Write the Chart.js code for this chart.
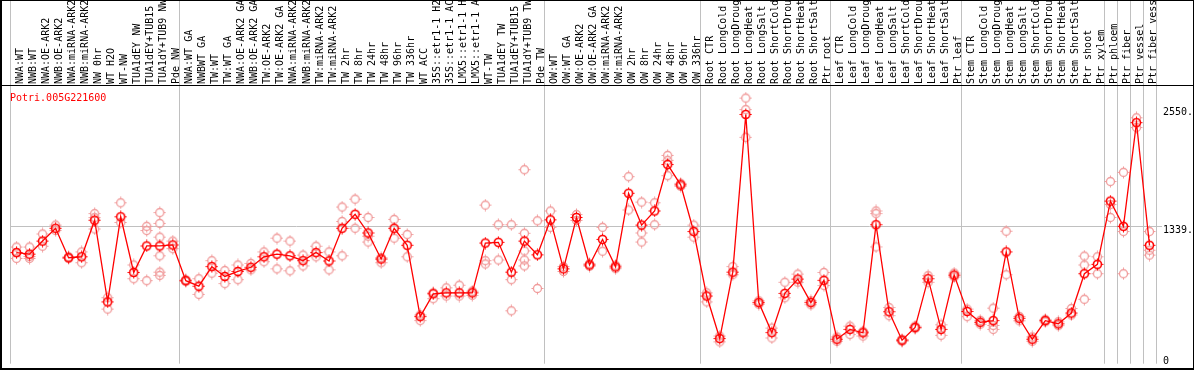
<!DOCTYPE html>
<html>
<head>
<meta charset="utf-8">
<script src="https://cdn.jsdelivr.net/npm/chart.js@4"></script>
<style>
html,body{margin:0;padding:0;background:#fff;}
#wrap{width:1194px;height:370px;position:relative;}
</style>
</head>
<body>
<div id="wrap"><canvas id="c"></canvas></div>
<script>
const geneName = 'Potri.005G221600';
const categories = [
 'NWA:WT','NWB:WT','NWA:OE-ARK2','NWB:OE-ARK2','NWA:miRNA-ARK2','NWB:miRNA-ARK2','NW 0hr','WT H2O','WT-NW','TUA1dEY NW','TUA1dEY+TUB15','TUA1dY+TUB9 NW','Pde NW',
 'NWA:WT GA','NWBWT GA','TW:WT','TW:WT GA','NWA:OE-ARK2 GA','NWB:OE-ARK2 GA','TW:OE-ARK2','TW:OE-ARK2 GA','NWA:miRNA-ARK2','NWB:miRNA-ARK2','TW:miRNA-ARK2','TW:miRNA-ARK2',
 'TW 2hr','TW 8hr','TW 24hr','TW 48hr','TW 96hr','TW 336hr','WT ACC','35S::etr1-1 H2','35S::etr1-1 AC','LMX5::etr1-1 H','LMX5::etr1-1 A','WT-TW','TUA1dEY TW','TUA1dEY+TUB15','TUA1dY+TUB9 TW','Pde TW',
 'OW:WT','OW:WT GA','OW:OE-ARK2','OW:OE-ARK2 GA','OW:miRNA-ARK2','OW:miRNA-ARK2','OW 2hr','OW 8hr','OW 24hr','OW 48hr','OW 96hr','OW 336hr',
 'Root CTR','Root LongCold','Root LongDroug','Root LongHeat','Root LongSalt','Root ShortCold','Root ShortDrou','Root ShortHeat','Root ShortSalt','Ptr root',
 'Leaf CTR','Leaf LongCold','Leaf LongDroug','Leaf LongHeat','Leaf LongSalt','Leaf ShortCold','Leaf ShortDrou','Leaf ShortHeat','Leaf ShortSalt','Ptr leaf',
 'Stem CTR','Stem LongCold','Stem LongDroug','Stem LongHeat','Stem LongSalt','Stem ShortCold','Stem ShortDrou','Stem ShortHeat','Stem ShortSalt','Ptr shoot','Ptr xylem',
 'Ptr phloem','Ptr fiber','Ptr vessel','Ptr fiber vess'
];
const meanValues = [
 1070,1054,1188,1319,1017,1027,1402,564,1437,866,1138,1138,1148,
 782,725,926,825,876,919,1027,1054,1037,987,1070,984,
 1319,1463,1271,1004,1319,1145,413,647,657,657,657,1168,1175,869,1188,1047,
 1406,903,1430,943,1205,923,1678,1352,1497,1973,1765,1286,
 624,188,869,2487,557,249,651,798,557,785,
 181,282,247,1356,463,171,302,802,282,839,
 466,355,372,1077,396,181,372,339,450,853,949,
 1598,1339,2403,1145
];
const replicateValues = [
 [1127,1010,1070],[1127,1010,1030],[1261,1135],[1352,1296],[1027,1010],[1077,966],[1470,1429,1312],[607,490],[1581,1379],[943,802],[1339,1296,782],[1480,1369,1228,1037,869,836],[1188,1110],
 [790,775],[802,641],[987,859],[886,752],[943,792],[959,893],[1077,976],[1218,903],[1188,883],[1044,933],[1135,1027],[1077,893],
 [1537,1389,1037],[1618,1319],[1430,1238,1178],[1017,966],[1410,1218],[1255,1027],[430,372],[657,597],[708,624],[735,624],[674,631],[1557,987,953],[1356,994],[1356,792,473],[1920,1268,1087,994,933],[1396,702],
 [1497,1329],[926,876],[1460,1400],[955,930],[1329,1084],[940,905],[1849,1507],[1588,1271,1178],[1581,1356],[2067,2016,1859],[1780,1750],[1352,1228],
 [657,564],[214,154],[926,843],[2655,2537,2252],[575,540],[295,194],[765,607],[849,765],[575,535],[866,732],
 [205,160],[315,229],[262,214],[1497,1470,1128],[506,423],[180,160],[315,290],[833,765],[329,221],[860,820],
 [490,413],[375,335],[500,322,282],[1289,843],[415,370],[205,160],[385,360],[360,320],[496,430],[1034,943,591],[1027,853],
 [1799,1563,1430],[1893,1286,853],[2453,2353],[1286,1094,1044]
];
const groupBreaks = [0,13,41,53,63,73,84,85,86,87,88];
const yTicks = [0,1339,2550];
const yTickLabels = ['0','1339.','2550.'];
const gridTick = 1339;
const yMin = -70, yMax = 2789;

const FONT = '"DejaVu Sans Mono", monospace';
Chart.defaults.font.family = FONT;
Chart.defaults.font.size = 10;

function marker(color, lw){
  const c = document.createElement('canvas');
  c.width = 13; c.height = 13;
  const g = c.getContext('2d');
  g.strokeStyle = color; g.lineWidth = lw;
  g.beginPath(); g.arc(6.5,6.5,4,0,Math.PI*2); g.stroke();
  g.fillStyle = color;
  g.fillRect(6,0.5,1,2); g.fillRect(6,10.5,1,2);
  g.fillRect(0.5,6,2,1); g.fillRect(10.5,6,2,1);
  return c;
}
const meanMarker = marker('#ff0000',1.6);
const repMarker = marker('#f09a9a',1.3);

const meanData = meanValues.map((v,i)=>({x:i+1,y:v}));
const repData = [];
replicateValues.forEach((arr,i)=>arr.forEach(v=>repData.push({x:i+1,y:v})));

const decor = {
  id:'decor',
  beforeDraw(chart){
    const g = chart.ctx;
    g.save(); g.fillStyle='#fff'; g.fillRect(0,0,chart.width,chart.height); g.restore();
  },
  beforeDatasetsDraw(chart){
    const g = chart.ctx, xs = chart.scales.x;
    g.save();
    g.strokeStyle = '#c0c0c0'; g.lineWidth = 1;
    groupBreaks.forEach(b=>{
      const x = Math.round(xs.getPixelForValue(b+0.5)) + 0.5;
      g.beginPath(); g.moveTo(x,0); g.lineTo(x,chart.chartArea.bottom); g.stroke();
    });
    g.restore();
  },
  afterDraw(chart){
    const g = chart.ctx, xs = chart.scales.x, ys = chart.scales.y, top = chart.chartArea.top;
    g.save();
    g.fillStyle = '#000';
    g.fillRect(0,top,chart.width,1);
    g.fillRect(0,0,2,chart.height);
    g.fillRect(0,chart.height-2,chart.width,2);
    g.fillRect(0,0,chart.width,1);
    g.fillRect(chart.width-1,0,1,chart.height);
    g.font = '10px ' + FONT;
    g.textAlign = 'left'; g.textBaseline = 'alphabetic';
    categories.forEach((lab,i)=>{
      const x = xs.getPixelForValue(i+1) + 6.5;
      g.save(); g.translate(x, top-1); g.rotate(-Math.PI/2);
      g.fillText(lab,0,0); g.restore();
    });
    // y tick labels
    g.textBaseline = 'top';
    yTicks.forEach((v,i)=>{
      g.fillText(yTickLabels[i], chart.chartArea.right + 7, Math.round(ys.getPixelForValue(v)) - 1);
    });
    g.fillStyle = '#ff0000';
    g.textBaseline = 'alphabetic';
    g.fillText(geneName, 10, top+16);
    g.restore();
  }
};

new Chart(document.getElementById('c'), {
  type:'scatter',
  data:{datasets:[
    {label:'mean', data:meanData, showLine:true, borderColor:'#ff0000', borderWidth:1.3, tension:0,
     pointStyle:meanMarker, pointRadius:5, order:0},
    {label:'replicates', data:repData, showLine:false, pointStyle:repMarker, pointRadius:5, order:1}
  ]},
  options:{
    responsive:true, maintainAspectRatio:false, animation:false, devicePixelRatio:1,
    layout:{padding:{top:85,left:10,bottom:1,right:0}},
    plugins:{legend:{display:false}, tooltip:{enabled:false}},
    scales:{
      x:{type:'linear', min:0.5, max:categories.length+0.5, display:false},
      y:{type:'linear', position:'right', min:yMin, max:yMax,
         afterBuildTicks:s=>{ s.ticks = yTicks.map(v=>({value:v})); },
         afterFit:s=>{ s.width = 38; },
         ticks:{display:false},
         grid:{drawTicks:true, tickLength:6,
               color:c=>(c.tick && c.tick.value===gridTick)?'#c0c0c0':'rgba(0,0,0,0)',
               tickColor:c=>(c.tick && c.tick.value===gridTick)?'#c0c0c0':'rgba(0,0,0,0)'},
         border:{display:false}}
    }
  },
  plugins:[decor]
});
</script>
</body>
</html>
